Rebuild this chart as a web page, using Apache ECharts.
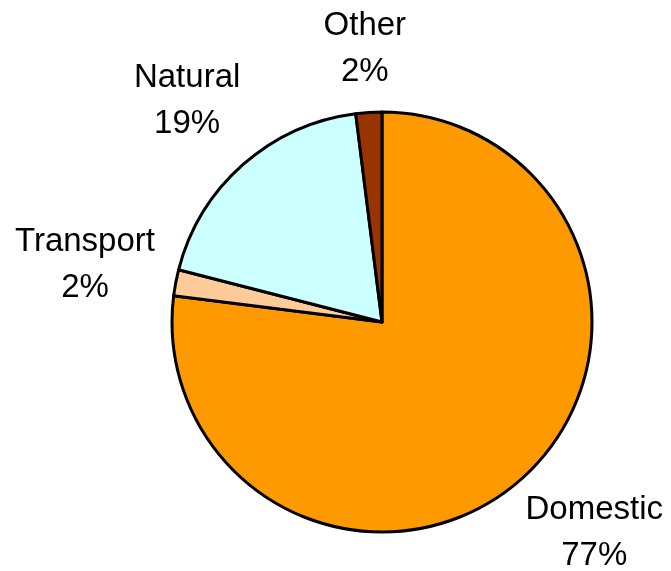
<!DOCTYPE html>
<html>
<head>
<meta charset="utf-8">
<script src="https://cdn.jsdelivr.net/npm/echarts@6/dist/echarts.min.js"></script>
<style>html,body{margin:0;padding:0;background:#fff}#c{width:671px;height:571px}</style>
</head>
<body>
<div id="c"></div>
<script>
const categories = ['Domestic', 'Transport', 'Natural', 'Other'];
const values = [77, 2, 19, 2];
const colors = ['#FF9900', '#FFCC99', '#CCFFFF', '#993300'];

const CX = 382, CY = 322, R = 210, GAP = 15, BOTTOM_MARGIN = 38, SIDE_MARGIN = 8;
const total = values.reduce((a, b) => a + b, 0);
const midAngles = [];
let acc = 0;
values.forEach(v => { midAngles.push((acc + v / 2) / total * 2 * Math.PI); acc += v; });

const chart = echarts.init(document.getElementById('c'));
const W = chart.getWidth(), H = chart.getHeight();
chart.setOption({
  animation: false,
  series: [{
    type: 'pie',
    center: [CX, CY],
    radius: R,
    startAngle: 90,
    clockwise: true,
    percentPrecision: 0,
    avoidLabelOverlap: false,
    data: categories.map((c, i) => ({ name: c, value: values[i], itemStyle: { color: colors[i] } })),
    itemStyle: { borderColor: '#000', borderWidth: 3 },
    emphasis: { disabled: true },
    labelLine: { show: false },
    label: {
      show: true,
      position: 'outside',
      formatter: '{b}\n{d}%',
      fontFamily: 'Liberation Sans, Arial, sans-serif',
      fontSize: 33,
      lineHeight: 46,
      color: '#000',
      align: 'center',
      overflow: 'none',
      edgeDistance: 0
    },
    labelLayout: function (p) {
      const a = midAngles[p.dataIndex];
      const dx = Math.sin(a), dy = -Math.cos(a);
      const hw = p.labelRect.width / 2, hh = p.labelRect.height / 2;
      const d = R + GAP + Math.abs(dx) * hw + Math.abs(dy) * hh;
      let x = CX + dx * d, y = CY + dy * d;
      const maxY = H - BOTTOM_MARGIN;
      if (y > maxY) {
        y = maxY;
        x = CX + Math.sign(dx) * Math.sqrt(Math.max(0, d * d - (y - CY) * (y - CY)));
      }
      x = Math.min(x, W - SIDE_MARGIN - hw);
      x = Math.max(x, SIDE_MARGIN + hw);
      return { x: x, y: y, align: 'center', verticalAlign: 'middle' };
    }
  }]
});
</script>
</body>
</html>
